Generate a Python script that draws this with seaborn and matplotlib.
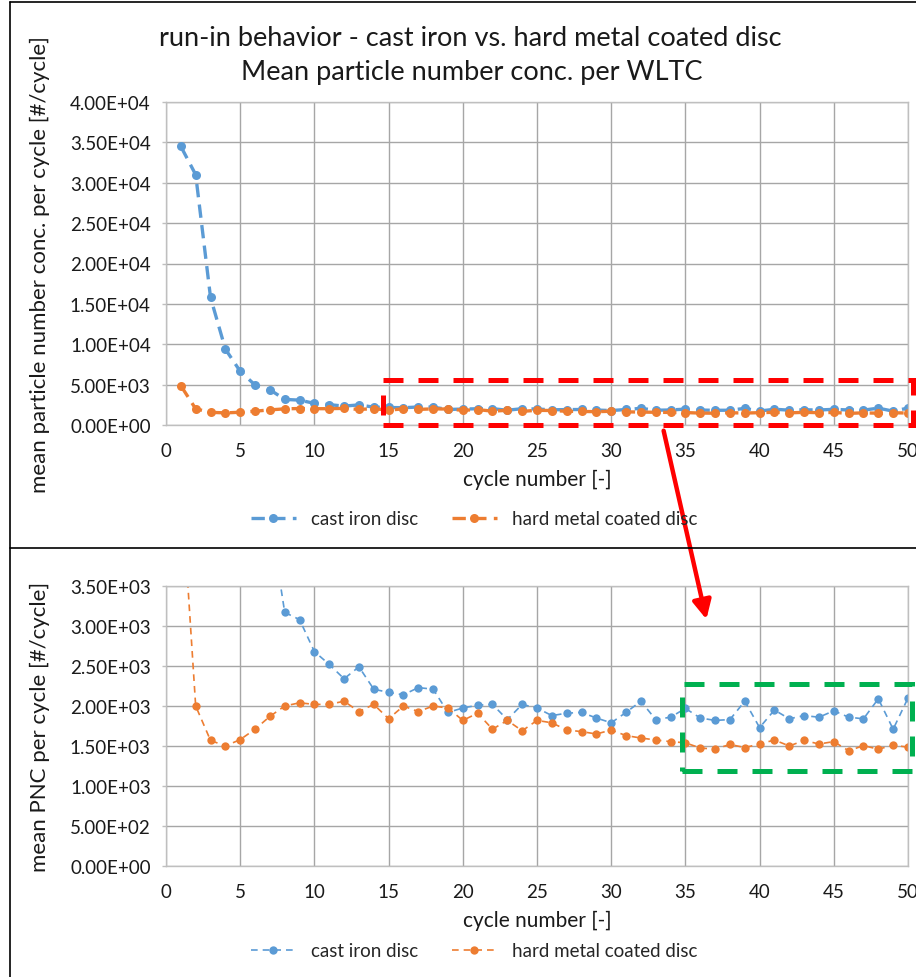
import matplotlib
matplotlib.use("Agg")
import matplotlib.pyplot as plt
import seaborn as sns
import pandas as pd
from matplotlib.lines import Line2D
from matplotlib.patches import Rectangle, FancyArrowPatch
from matplotlib.ticker import FuncFormatter, MultipleLocator

# ---------------- data ----------------
cycles = [1, 2, 3, 4, 5, 6, 7, 8, 9, 10,
          11, 12, 13, 14, 15, 16, 17, 18, 19, 20,
          21, 22, 23, 24, 25, 26, 27, 28, 29, 30,
          31, 32, 33, 34, 35, 36, 37, 38, 39, 40,
          41, 42, 43, 44, 45, 46, 47, 48, 49, 50]
cast_iron = [34500, 31000, 15800, 9400, 6650, 4950, 4370, 3170, 3080, 2680,
             2520, 2340, 2490, 2210, 2170, 2140, 2230, 2210, 1920, 1975,
             2010, 2020, 1830, 2020, 1975, 1880, 1910, 1920, 1850, 1790,
             1920, 2060, 1830, 1860, 1970, 1850, 1820, 1830, 2060, 1730,
             1950, 1840, 1880, 1860, 1940, 1860, 1840, 2090, 1710, 2100]
hard_metal = [4870, 2000, 1570, 1500, 1580, 1710, 1870, 2000, 2040, 2020,
              2020, 2060, 1930, 2020, 1840, 2000, 1930, 2000, 1975, 1820,
              1910, 1710, 1820, 1690, 1820, 1790, 1700, 1680, 1650, 1700,
              1630, 1600, 1575, 1555, 1540, 1475, 1460, 1520, 1480, 1525,
              1575, 1500, 1570, 1525, 1555, 1440, 1505, 1460, 1510, 1485]
series_names = ["cast iron disc", "hard metal coated disc"]
title_lines = ["run-in behavior - cast iron vs. hard metal coated disc",
               "Mean particle number conc. per WLTC"]
xlabel = "cycle number [-]"
ylabel_top = "mean particle number conc. per cycle [#/cycle]"
ylabel_bottom = "mean PNC per cycle [#/cycle]"

df = pd.DataFrame({"cycle": cycles, series_names[0]: cast_iron,
                   series_names[1]: hard_metal})

BLUE = "#5B9BD5"
ORANGE = "#ED7D31"
colors = [BLUE, ORANGE]

sns.set_style("white")
plt.rcParams["font.family"] = ["Lato", "DejaVu Sans"]

W, H = 916, 978
fig = plt.figure(figsize=(W / 100, H / 100), dpi=100)

def fx(px):
    return px / W

def fy(py):
    return 1 - py / H

ax_top = fig.add_axes([fx(166), fy(426), fx(908) - fx(166), fy(103) - fy(426)])
ax_bot = fig.add_axes([fx(166), fy(867), fx(908) - fx(166), fy(587) - fy(867)])

fmt = FuncFormatter(lambda v, p: f"{v:.2E}")

def style_axes(ax, ymax, ystep, ylabel):
    ax.set_xlim(0, 50)
    ax.set_ylim(0, ymax)
    ax.xaxis.set_major_locator(MultipleLocator(5))
    ax.yaxis.set_major_locator(MultipleLocator(ystep))
    ax.yaxis.set_major_formatter(fmt)
    ax.grid(True, color="#a6a6a6", lw=1.0)
    ax.set_axisbelow(True)
    for s in ax.spines.values():
        s.set_color("#bfbfbf")
        s.set_linewidth(1.0)
    ax.tick_params(axis="both", labelsize=13.5, colors="#bfbfbf", labelcolor="#1a1a1a",
                   length=3, width=1, direction="out", left=True, bottom=False)
    ax.tick_params(axis="x", pad=9)
    ax.tick_params(axis="y", pad=8)
    ax.set_xlabel(xlabel, fontsize=15, color="#1a1a1a", labelpad=7)
    ax.set_ylabel(ylabel, fontsize=16, color="#1a1a1a")

# top panel
for name, c in zip(series_names, colors):
    sns.lineplot(data=df, x="cycle", y=name, ax=ax_top, color=c, marker="o",
                 markersize=6.5, markeredgewidth=0, lw=2.4,
                 linestyle=(0, (4, 2.2)), label=name, legend=False)
style_axes(ax_top, 40000, 5000, ylabel_top)

# bottom panel
for name, c in zip(series_names, colors):
    sns.lineplot(data=df, x="cycle", y=name, ax=ax_bot, color=c, marker="o",
                 markersize=6, markeredgewidth=0, lw=1.2,
                 linestyle=(0, (4, 3)), label=name, legend=False)
style_axes(ax_bot, 3500, 500, ylabel_bottom)

for ax in (ax_top, ax_bot):
    ax.yaxis.set_label_coords((50 - 166) / 742, 0.5)

# legends
h_top = [Line2D([], [], color=c, marker="o", markersize=6.5, markeredgewidth=0,
                lw=2.4, linestyle=(0, (4, 2.2))) for c in colors]
h_bot = [Line2D([], [], color=c, marker="o", markersize=6, markeredgewidth=0,
                lw=1.2, linestyle=(0, (4, 3))) for c in colors]
for handles, ypix in ((h_top, 520), (h_bot, 952)):
    fig.legend(handles, series_names, loc="center", bbox_to_anchor=(fx(474), fy(ypix)),
               ncol=2, frameon=False, fontsize=13.5, handlelength=2.4,
               columnspacing=1.8, handletextpad=0.8)

# titles
fig.text(fx(470), fy(38), title_lines[0], ha="center", va="center", fontsize=19.5,
         color="#1a1a1a")
fig.text(fx(472), fy(73), title_lines[1], ha="center", va="center", fontsize=19.5,
         color="#1a1a1a")

# frame lines of the two chart boxes
fig.add_artist(Line2D([fx(10), 1], [fy(3), fy(3)], transform=fig.transFigure,
                      color="black", lw=1.2))
fig.add_artist(Line2D([fx(10), fx(10)], [fy(3), 0], transform=fig.transFigure,
                      color="black", lw=1.2))
fig.add_artist(Line2D([fx(10), 1], [fy(549), fy(549)], transform=fig.transFigure,
                      color="black", lw=1.2))

# highlight boxes
ax_top.add_patch(Rectangle((14.6, -60), 50.35 - 14.6, 5620, fill=False, ec="#FF0000",
                           lw=3.6, ls=(0, (4, 3)), clip_on=False, zorder=5))
ax_bot.add_patch(Rectangle((34.75, 1190), 50.25 - 34.75, 2275 - 1190, fill=False,
                           ec="#00B050", lw=3.6, ls=(0, (4, 3)), clip_on=False, zorder=5))

# arrow
fig.add_artist(FancyArrowPatch((fx(663), fy(429)), (fx(707), fy(623)),
                               transform=fig.transFigure, arrowstyle="-|>",
                               mutation_scale=28, lw=3.2, color="#FF0000"))

fig.savefig("out.png", dpi=100)
